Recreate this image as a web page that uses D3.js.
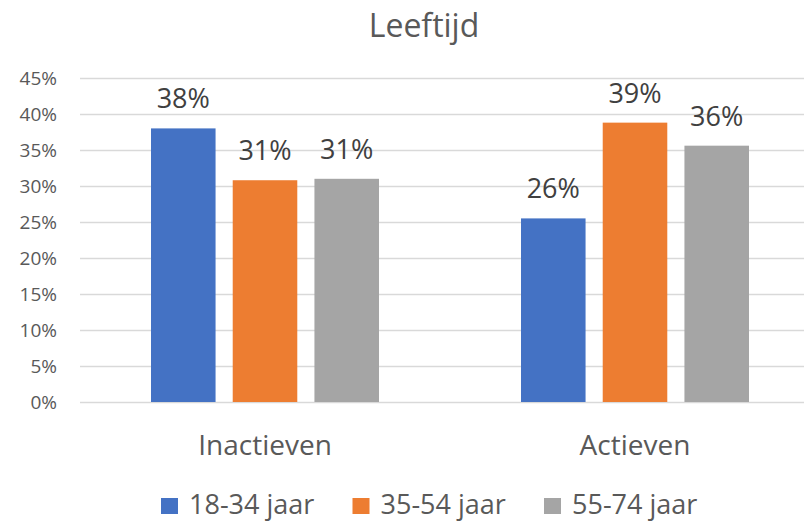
<!DOCTYPE html>
<html>
<head>
<meta charset="utf-8">
<script src="https://cdn.jsdelivr.net/npm/d3@7"></script>
<style>
  body { margin: 0; background: #fff; }
  text { font-family: "Open Sans", sans-serif; }
</style>
</head>
<body>
<div id="viz"></div>
<script>
// chart data
var categories = ['Inactieven', 'Actieven'];
var series = ['18-34 jaar', '35-54 jaar', '55-74 jaar'];
var values_1834 = [0.38, 0.255];
var values_3554 = [0.308, 0.388];
var values_5574 = [0.31, 0.356];
var y_ticks = [0, 0.05, 0.10, 0.15, 0.20, 0.25, 0.30, 0.35, 0.40, 0.45];

var colors = ['#4472C4', '#ED7D31', '#A5A5A5'];
var all_values = [values_1834, values_3554, values_5574];

var W = 804, H = 521;
var margin = {top: 78, left: 80, bottom: 118};
var plot_w = 740, // plot runs past the right edge, like the cropped original
    plot_h = 402 - margin.top;

var svg = d3.select('#viz').append('svg')
    .attr('width', W)
    .attr('height', H);

// title
svg.append('text')
    .attr('x', 424)
    .attr('y', 37)
    .attr('text-anchor', 'middle')
    .attr('fill', '#595959')
    .style('font-size', '32px')
    .text('Leeftijd');

var g = svg.append('g')
    .attr('transform', 'translate(' + margin.left + ',' + margin.top + ')');

// scales
var x0 = d3.scaleBand().domain(categories).range([0, plot_w]).padding(0);
var x1 = d3.scaleBand().domain(series)
    .range([71, x0.bandwidth() - 71])
    .paddingInner(0.21)
    .paddingOuter(0);
var y = d3.scaleLinear().domain([0, 0.45]).range([plot_h, 0]);

// gridlines
g.selectAll('.grid')
    .data(y_ticks)
    .enter().append('line')
    .attr('class', 'grid')
    .attr('x1', 0)
    .attr('x2', plot_w)
    .attr('y1', function(d) { return Math.round(y(d)) + 0.5; })
    .attr('y2', function(d) { return Math.round(y(d)) + 0.5; })
    .attr('stroke', '#D9D9D9')
    .attr('stroke-width', 1.5);

// y axis labels
var y_axis = g.append('g')
    .call(d3.axisLeft(y).tickValues(y_ticks).tickFormat(d3.format('.0%')).tickSize(0).tickPadding(23));
y_axis.select('.domain').remove();
y_axis.selectAll('text')
    .attr('fill', '#595959')
    .style('font-family', '"Open Sans", sans-serif')
    .style('font-size', '19px');

// bars
var groups = g.selectAll('.group')
    .data(categories)
    .enter().append('g')
    .attr('class', 'group')
    .attr('transform', function(d) { return 'translate(' + x0(d) + ',0)'; });

groups.selectAll('rect')
    .data(function(d, i) {
      return series.map(function(s, j) { return {serie: s, value: all_values[j][i], color: colors[j]}; });
    })
    .enter().append('rect')
    .attr('x', function(d) { return x1(d.serie); })
    .attr('y', function(d) { return y(d.value); })
    .attr('width', x1.bandwidth())
    .attr('height', function(d) { return plot_h - y(d.value); })
    .attr('fill', function(d) { return d.color; });

groups.selectAll('.label')
    .data(function(d, i) {
      return series.map(function(s, j) { return {serie: s, value: all_values[j][i]}; });
    })
    .enter().append('text')
    .attr('class', 'label')
    .attr('x', function(d) { return x1(d.serie) + x1.bandwidth() / 2; })
    .attr('y', function(d) { return y(d.value) - 20; })
    .attr('text-anchor', 'middle')
    .attr('fill', '#404040')
    .style('font-size', '27px')
    .text(function(d) { return d3.format('.0%')(d.value); });

// category labels
g.selectAll('.cat')
    .data(categories)
    .enter().append('text')
    .attr('class', 'cat')
    .attr('x', function(d) { return x0(d) + x0.bandwidth() / 2; })
    .attr('y', plot_h + 53)
    .attr('text-anchor', 'middle')
    .attr('fill', '#595959')
    .style('font-size', '28px')
    .text(function(d) { return d; });

// legend
var legend = svg.append('g').attr('transform', 'translate(161,0)');
var items = legend.selectAll('.item')
    .data(series)
    .enter().append('g')
    .attr('class', 'item')
    .attr('transform', function(d, i) { return 'translate(' + (i * 191.5) + ',0)'; });
items.append('rect')
    .attr('x', 0)
    .attr('y', 498)
    .attr('width', 17)
    .attr('height', 16)
    .attr('fill', function(d, i) { return colors[i]; });
items.append('text')
    .attr('x', 28)
    .attr('y', 514)
    .attr('fill', '#595959')
    .style('font-size', '27px')
    .text(function(d) { return d; });
</script>
</body>
</html>
